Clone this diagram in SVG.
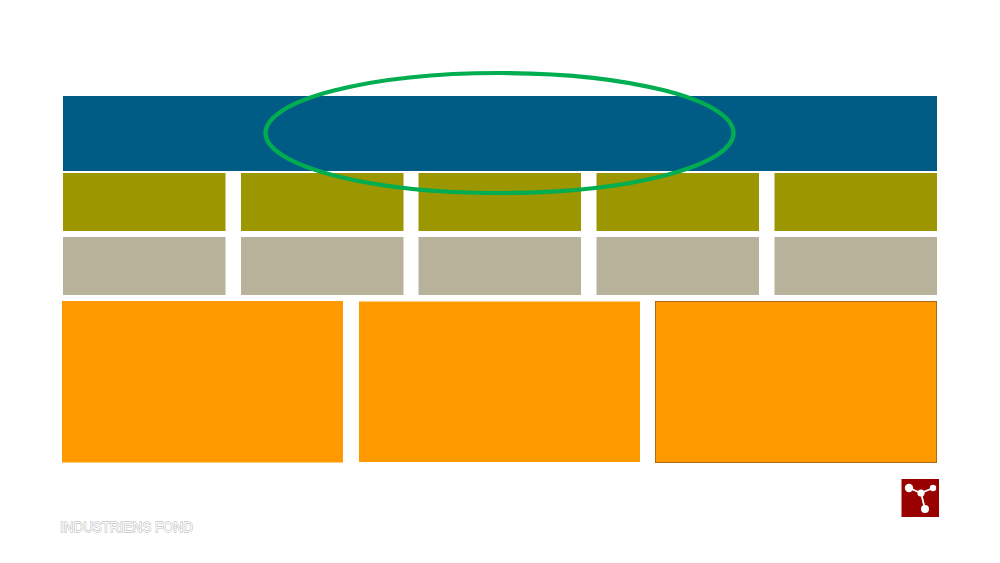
<svg xmlns="http://www.w3.org/2000/svg" width="1000" height="563" viewBox="0 0 1000 563">
<style>
.olive{fill:#9c9700}
.grey{fill:#b9b29b}
.orange{fill:#ff9900}
.brand{font-family:"Liberation Sans",Arial,sans-serif;font-size:14px;fill:#fff;stroke:#a8a8a8;stroke-width:.9px;paint-order:stroke}
</style>
<rect width="1000" height="563" fill="#fff"/>
<g id="band"><rect x="63" y="96" width="874" height="75" fill="#005c85"/></g>
<g id="olive-1"><rect class="olive" x="63" y="173" width="162.500" height="58"/></g>
<g id="olive-2"><rect class="olive" x="241" y="173" width="162.500" height="58"/></g>
<g id="olive-3"><rect class="olive" x="418.500" y="173" width="162.500" height="58"/></g>
<g id="olive-4"><rect class="olive" x="596.500" y="173" width="162.500" height="58"/></g>
<g id="olive-5"><rect class="olive" x="774.500" y="173" width="162.500" height="58"/></g>
<g id="grey-1"><rect class="grey" x="63" y="237" width="162.500" height="58"/></g>
<g id="grey-2"><rect class="grey" x="241" y="237" width="162.500" height="58"/></g>
<g id="grey-3"><rect class="grey" x="418.500" y="237" width="162.500" height="58"/></g>
<g id="grey-4"><rect class="grey" x="596.500" y="237" width="162.500" height="58"/></g>
<g id="grey-5"><rect class="grey" x="774.500" y="237" width="162.500" height="58"/></g>
<g id="orange-1"><rect class="orange" x="62" y="301" width="281" height="161.500"/></g>
<g id="orange-2"><rect class="orange" x="359" y="301.500" width="281" height="160.500"/></g>
<g id="orange-3"><rect class="orange" x="655.500" y="301.500" width="281" height="161" stroke="#a86a10" stroke-width="1"/></g>
<g id="ellipse"><ellipse cx="499.500" cy="133" rx="234" ry="60" fill="none" stroke="#00ad50" stroke-width="4.200"/></g>
<g id="logo">
<rect x="901.500" y="479" width="37.500" height="38" fill="#990000"/>
<path d="M909 488L921 493L933 488M921 493L925 509" fill="none" stroke="#fff" stroke-width="1.800"/>
<circle cx="909" cy="488" r="4.200" fill="#fff"/>
<circle cx="921" cy="493" r="3.600" fill="#fff"/>
<circle cx="933" cy="488" r="3.200" fill="#fff"/>
<circle cx="925" cy="509" r="4" fill="#fff"/>
</g>
<g id="brand" opacity=".99"><text class="brand" x="60" y="532" textLength="133" lengthAdjust="spacingAndGlyphs">INDUSTRIENS FOND</text></g>
</svg>
